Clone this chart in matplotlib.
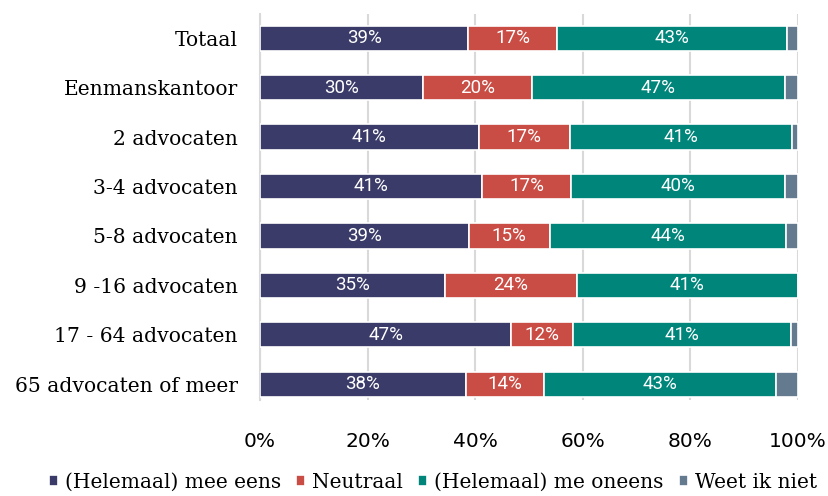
import matplotlib
matplotlib.use("Agg")
import matplotlib.pyplot as plt
import numpy as np

categories = ["Totaal", "Eenmanskantoor", "2 advocaten", "3-4 advocaten",
              "5-8 advocaten", "9 -16 advocaten", "17 - 64 advocaten",
              "65 advocaten of meer"]
series_names = ["(Helemaal) mee eens", "Neutraal", "(Helemaal) me oneens", "Weet ik niet"]
eens = [38.7, 30.3, 40.7, 41.3, 38.8, 34.4, 46.7, 38.3]
neutraal = [16.5, 20.3, 16.9, 16.5, 15.1, 24.5, 11.5, 14.5]
oneens = [42.7, 46.9, 41.3, 39.8, 43.9, 41.1, 40.5, 43.2]
weet = [2.1, 2.5, 1.1, 2.4, 2.2, 0.0, 1.3, 4.0]
labels_eens = ["39%", "30%", "41%", "41%", "39%", "35%", "47%", "38%"]
labels_neutraal = ["17%", "20%", "17%", "17%", "15%", "24%", "12%", "14%"]
labels_oneens = ["43%", "47%", "41%", "40%", "44%", "41%", "41%", "43%"]
xticks = [0, 20, 40, 60, 80, 100]
xticklabels = ["0%", "20%", "40%", "60%", "80%", "100%"]

colors = ["#3a3b68", "#c94d44", "#00857a", "#647b8f"]

fig = plt.figure(figsize=(8.29, 4.96), dpi=100)
ax = fig.add_axes([260/829, 1-400/496, 538/829, 386/496])

y = np.arange(len(categories))
data = [eens, neutraal, oneens, weet]
lbls = [labels_eens, labels_neutraal, labels_oneens, None]
left = np.zeros(len(categories))
for vals, col, name, lb in zip(data, colors, series_names, lbls):
    vals = np.array(vals)
    ax.barh(y, vals, left=left, height=0.51, color=col, edgecolor="white",
            linewidth=1.2, label=name, zorder=3)
    if lb is not None:
        for yi, l, v, t in zip(y, left, vals, lb):
            ax.text(l + v/2, yi, t, ha="center", va="center", color="white",
                    fontsize=13.5, family="Roboto", zorder=4)
    left = left + vals

ax.set_xlim(0, 100)
ax.set_ylim(7.32, -0.49)
ax.set_yticks(y)
ax.set_yticklabels(categories, family="DejaVu Serif", fontsize=14.6)
ax.set_xticks(xticks)
ax.set_xticklabels(xticklabels, family="DejaVu Sans", fontsize=14.5)
ax.tick_params(axis="y", length=0, pad=16)
ax.tick_params(axis="x", length=0, pad=23)
ax.grid(axis="x", color="#d9d9d9", linewidth=1.5, zorder=0)
for s in ["top", "right", "bottom"]:
    ax.spines[s].set_visible(False)
ax.spines["left"].set_color("#d9d9d9")
ax.spines["left"].set_linewidth(1.5)

handles, labs = ax.get_legend_handles_labels()
leg = fig.legend(handles, labs, loc="center", bbox_to_anchor=(0.522, 1-482/496),
                 ncol=4, frameon=False, handlelength=0.45, handleheight=0.45,
                 handletextpad=0.35, columnspacing=0.75,
                 prop={"family": "DejaVu Serif", "size": 14.5})
fig.savefig("out.png", dpi=100)
